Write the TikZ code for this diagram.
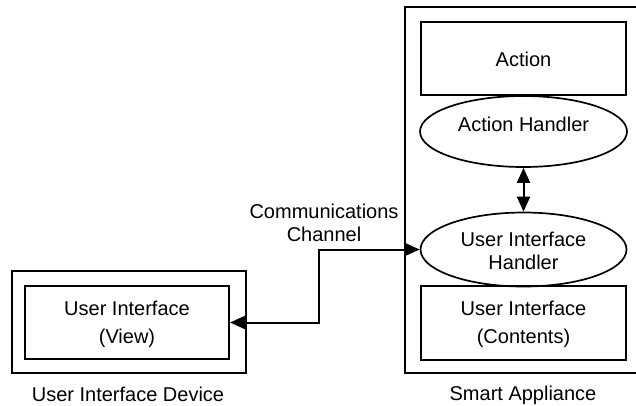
\documentclass[tikz,border=0pt]{standalone}
\usepackage{fontspec}
\setmainfont{Liberation Sans}
\usetikzlibrary{shapes.geometric,arrows.meta}

\tikzset{
  box/.style={draw, line width=2pt, rectangle, inner sep=0pt},
  handler/.style={draw, line width=1.7pt, ellipse, inner sep=0pt},
  txt/.style={align=center, inner sep=0pt, font=\fontsize{20}{28}\selectfont},
  txtnarrow/.style={align=center, inner sep=0pt, font=\fontsize{20}{23}\selectfont},
  link/.style={line width=2pt, {Triangle[length=15pt,width=13pt]}-{Triangle[length=15pt,width=13pt]}}
}

\begin{document}
\begin{tikzpicture}[x=1pt,y=-1pt]
  \useasboundingbox (0,0) rectangle (636,405);
  \clip (0,0) rectangle (636,405);

  % smart appliance enclosure (runs off the right edge)
  \node[box, minimum width=260pt, minimum height=366pt] (sa) at (535,190) {};
  \node[box, minimum width=205pt, minimum height=73pt] (action) at (523.5,58.5) {};
  \node[txt] (actiontxt) at (523.5,59) {Action};
  \node[handler, minimum width=207pt, minimum height=71pt] (ah) at (523.5,131.5) {};
  \node[txt] (ahtxt) at (523.5,124) {Action Handler};
  \node[handler, minimum width=206pt, minimum height=74pt] (uih) at (523.5,249.5) {};
  \node[txtnarrow] (uihtxt) at (523.5,250.5) {User Interface\\Handler};
  \node[box, minimum width=205pt, minimum height=74pt] (contents) at (523.5,323) {};
  \node[txt] (contentstxt) at (523.5,324) {User Interface\\(Contents)};
  \node[txt, anchor=base] (salabel) at (523,400) {Smart Appliance};

  % user interface device
  \node[box, minimum width=234pt, minimum height=102pt] (uid) at (129,322) {};
  \node[box, minimum width=204pt, minimum height=73pt] (view) at (127,322.5) {};
  \node[txt] (viewtxt) at (127,324) {User Interface\\(View)};
  \node[txt, anchor=base] (uidlabel) at (128,401) {User Interface Device};

  % connectors
  \draw[link] (ah.south) -- (uih.north);
  \draw[link] (uih.west) -- ++(-101,0) coordinate (bend) |- (view.east);
  \node[txtnarrow] (chan) at (324,223) {Communications\\Channel};
\end{tikzpicture}
\end{document}
